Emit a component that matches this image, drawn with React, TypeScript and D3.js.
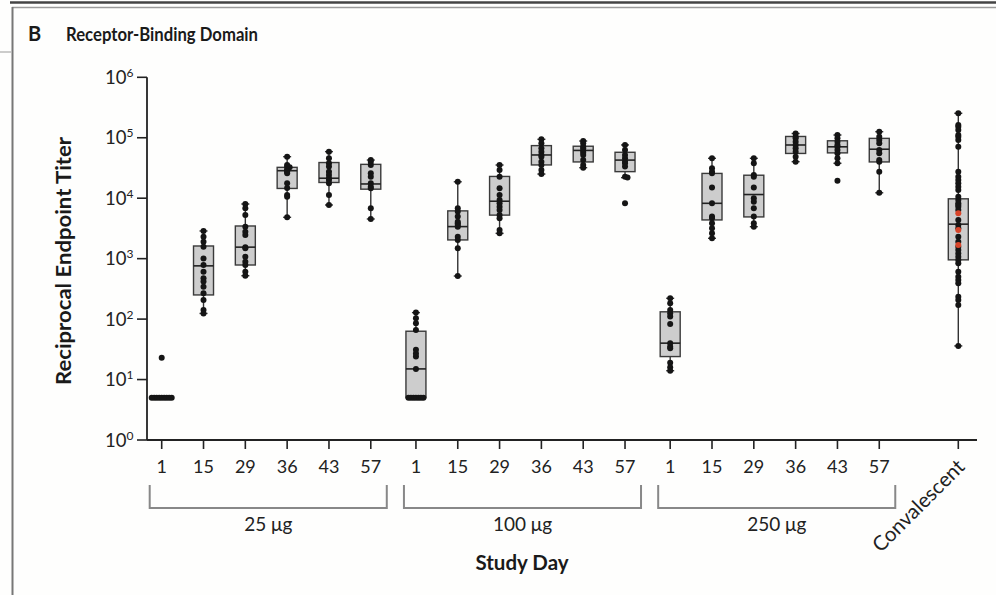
import React from "react";
import * as d3 from "d3";

// ---------- data ----------
const doseLabels = ["25 μg", "100 μg", "250 μg"];
const dayLabels = ["1", "15", "29", "36", "43", "57"];
const convLabel = "Convalescent";
const yExponents = [0, 1, 2, 3, 4, 5, 6];

// per-day box stats: [whiskerLow, q1, median, q3, whiskerHigh]
const box25 = [
  [5, 5, 5, 5, 5],
  [124, 251, 760, 1620, 2870],
  [522, 785, 1550, 3470, 8020],
  [4830, 14500, 28500, 32400, 48600],
  [7720, 18200, 21400, 38900, 58900],
  [4530, 14100, 17200, 36300, 42800],
];
const box100 = [
  [5, 5, 15, 63, 128],
  [516, 2040, 3390, 6170, 18700],
  [2620, 5250, 8910, 22900, 35400],
  [25100, 35500, 51900, 74100, 94200],
  [32000, 39800, 61700, 72400, 88300],
  [21900, 27500, 42700, 57500, 76000],
];
const box250 = [
  [14, 24, 40, 132, 221],
  [2170, 4370, 8230, 25700, 45700],
  [3380, 4900, 11500, 24000, 45700],
  [40200, 55000, 75900, 105000, 117500],
  [37800, 56200, 70800, 89100, 111000],
  [12300, 39800, 64600, 97700, 126000],
];
const boxConv = [36, 955, 3720, 9770, 254000];

// individual titers
const pts25 = [
  [5, 5, 5, 5, 5, 5, 5, 5, 5, 23],
  [2870, 2310, 1910, 1580, 1010, 785, 610, 473, 417, 344, 267, 207, 141, 124],
  [8020, 6800, 5280, 3380, 2790, 2460, 1540, 1480, 1080, 890, 785, 610, 522],
  [48600, 35400, 33500, 32400, 30000, 28500, 27400, 25800, 17600, 14800, 11300, 10600, 4830],
  [58900, 45700, 37800, 33300, 27400, 24200, 21300, 20000, 17600, 11300, 7720],
  [42800, 40200, 35400, 25800, 22700, 17600, 15500, 14600, 6800, 4530],
];
const pts100 = [
  [5, 5, 5, 5, 5, 5, 5, 15, 24, 27, 31, 66, 85, 103, 128],
  [18700, 6800, 6000, 4960, 4090, 3850, 3610, 3380, 2310, 2030, 1480, 516],
  [35400, 29300, 22700, 14600, 11300, 9340, 8230, 7240, 6380, 5280, 4650, 2980, 2620],
  [94200, 80900, 66900, 58900, 51900, 48600, 40200, 35400, 29300, 25100],
  [88300, 80900, 71300, 66900, 61100, 56600, 51900, 42800, 35400, 32000],
  [76000, 62700, 51900, 45700, 40200, 37800, 33300, 22700, 21900, 8230],
];
const pts250 = [
  [221, 183, 141, 125, 110, 83, 40, 35, 33, 19, 16, 14],
  [45700, 31200, 27400, 25800, 15100, 8230, 4960, 4650, 3850, 3180, 2620, 2170],
  [45700, 37800, 24200, 22700, 15100, 9960, 8760, 6800, 4960, 3850, 3380],
  [117500, 104000, 97700, 86100, 75900, 66900, 58900, 48600, 40200],
  [111000, 97700, 86100, 75900, 71300, 62700, 55200, 45700, 37800, 19500],
  [126000, 104000, 91900, 80900, 62700, 55200, 42800, 40200, 27400, 12300],
];
const ptsConv = [
  254000, 163000, 152000, 134000, 111000, 104000, 91900, 71300, 27400, 22700, 20000,
  17600, 15500, 13700, 10600, 9340, 8230, 7720, 7240, 6380, 4370, 3610, 3180, 2310,
  1910, 1580, 1390, 1220, 1080, 950, 838, 610, 504, 444, 391, 235, 207, 171, 36,
];
const ptsConvRed = [5630, 2980, 1680];

const doseBoxes = [box25, box100, box250];
const dosePoints = [pts25, pts100, pts250];

// ---------- layout ----------
const W = 996;
const H = 595;
const GROUP_STRIDE = 6.08;
const CONV_GAP = 1.89;
const FONT = "Lato, 'Open Sans', sans-serif";

const convSlot = 2 * GROUP_STRIDE + 5 + CONV_GAP;
const x = d3.scaleLinear().domain([0, convSlot]).range([161.7, 958.3]);
const y = d3.scaleLog().domain([1, 1e6]).range([440, 77.3]);
const slot = (g: number, i: number) => g * GROUP_STRIDE + i;

const AXIS_X = 147;
const AXIS_Y = 440;
const BOX_W = 20;
const STEP = 2.5;
const R = 3;

type P = { x: number; y: number; red?: boolean };

function swarm(vals: number[], cx: number, red: boolean[] = []): P[] {
  const placed: P[] = [];
  vals.forEach((v, idx) => {
    const py = y(v);
    for (let k = 0; k < 40; k++) {
      const off = k === 0 ? 0 : (k % 2 ? 1 : -1) * Math.ceil(k / 2) * STEP;
      const px = cx + off;
      const hit = placed.some((q) => Math.abs(q.y - py) < 1 && Math.abs(q.x - px) < STEP - 0.1);
      if (!hit) {
        placed.push({ x: px, y: py, red: red[idx] });
        break;
      }
    }
  });
  return placed;
}

function Box({ cx, stats, pts }: { cx: number; stats: number[]; pts: P[] }) {
  const [lo, q1, med, q3, hi] = stats;
  const h = BOX_W / 2;
  return (
    <g>
      <line x1={cx} x2={cx} y1={y(lo)} y2={y(hi)} stroke="#333" strokeWidth={1.4} />
      <line x1={cx - 4} x2={cx + 4} y1={y(lo)} y2={y(lo)} stroke="#333" strokeWidth={1.4} />
      <line x1={cx - 4} x2={cx + 4} y1={y(hi)} y2={y(hi)} stroke="#333" strokeWidth={1.4} />
      <rect
        x={cx - h}
        y={y(q3)}
        width={BOX_W}
        height={Math.max(0, y(q1) - y(q3))}
        fill="#cdcdcd"
        stroke="#3a3a3a"
        strokeWidth={1.4}
      />
      <line x1={cx - h} x2={cx + h} y1={y(med)} y2={y(med)} stroke="#222" strokeWidth={1.6} />
      {pts.map((p, i) => (
        <circle key={i} cx={p.x} cy={p.y} r={R} fill={p.red ? "#d8452a" : "#151515"} />
      ))}
    </g>
  );
}

export default function App() {
  const convX = x(convSlot);
  const convAll = [...ptsConv, ...ptsConvRed];
  const convRed = [...ptsConv.map(() => false), ...ptsConvRed.map(() => true)];
  const convPts = swarm(convAll, convX, convRed);

  return (
    <svg
      width={W}
      height={H}
      viewBox={`0 0 ${W} ${H}`}
      style={{ position: "absolute", left: 0, top: 0, background: "#fefefd" }}
      fontFamily={FONT}
    >
      {/* frame */}
      <line x1={10} y1={2.5} x2={W} y2={2.5} stroke="#444" strokeWidth={2.5} />
      <line x1={12} y1={7.5} x2={W} y2={7.5} stroke="#9a9a9a" strokeWidth={1.5} />
      <line x1={12.5} y1={7} x2={12.5} y2={H} stroke="#777" strokeWidth={2} />
      <line x1={0} y1={52} x2={11} y2={52} stroke="#aaa" strokeWidth={1.2} />

      {/* title */}
      <text x={28} y={41} fontSize={20} fontWeight={700} fill="#1a1a1a">B</text>
      <text x={66} y={41} fontSize={19} fontWeight={700} fill="#1a1a1a" textLength={192} lengthAdjust="spacingAndGlyphs">
        Receptor-Binding Domain
      </text>

      {/* y axis */}
      <line x1={AXIS_X} x2={AXIS_X} y1={y(1e6)} y2={AXIS_Y} stroke="#222" strokeWidth={1.8} />
      {yExponents.map((e) => {
        const ty = y(Math.pow(10, e));
        return (
          <g key={e}>
            <line x1={AXIS_X - 10} x2={AXIS_X} y1={ty} y2={ty} stroke="#222" strokeWidth={1.6} />
            <text x={133.5} y={ty + 6.5} textAnchor="end" fontSize={18.5} fill="#222">
              10
              <tspan fontSize={12} dy={-7}>{e}</tspan>
            </text>
          </g>
        );
      })}
      <text
        transform={`translate(71,261) rotate(-90)`}
        textAnchor="middle"
        fontSize={21}
        fontWeight={700}
        fill="#1a1a1a"
        textLength={248}
        lengthAdjust="spacingAndGlyphs"
      >
        Reciprocal Endpoint Titer
      </text>

      {/* x axis */}
      <line x1={AXIS_X} x2={977} y1={AXIS_Y} y2={AXIS_Y} stroke="#222" strokeWidth={1.8} />
      {doseLabels.map((dl, g) => {
        const x0 = x(slot(g, 0));
        const x1 = x(slot(g, 5));
        return (
          <g key={dl}>
            {dayLabels.map((d, i) => {
              const tx = x(slot(g, i));
              return (
                <g key={d}>
                  <line x1={tx} x2={tx} y1={AXIS_Y} y2={AXIS_Y + 9} stroke="#222" strokeWidth={1.6} />
                  <text x={tx} y={472.5} textAnchor="middle" fontSize={18} fill="#222">{d}</text>
                </g>
              );
            })}
            <path
              d={`M${x0 - 12},485 V508 H${x1 + 16} V485`}
              fill="none"
              stroke="#888"
              strokeWidth={2}
            />
            <text x={(x0 - 12 + x1 + 16) / 2} y={531} textAnchor="middle" fontSize={19} fill="#222">
              {dl}
            </text>
          </g>
        );
      })}
      <line x1={convX} x2={convX} y1={AXIS_Y} y2={AXIS_Y + 9} stroke="#222" strokeWidth={1.6} />
      <text
        transform={`translate(966,468) rotate(-45)`}
        textAnchor="end"
        fontSize={20.5}
        fill="#222"
      >
        {convLabel}
      </text>
      <text x={522} y={570} textAnchor="middle" fontSize={20.5} fontWeight={700} fill="#1a1a1a">
        Study Day
      </text>

      {/* boxes */}
      {doseBoxes.map((boxes, g) =>
        boxes.map((stats, i) => {
          const cx = x(slot(g, i));
          return <Box key={`${g}-${i}`} cx={cx} stats={stats} pts={swarm(dosePoints[g][i], cx)} />;
        })
      )}
      <Box cx={convX} stats={boxConv} pts={convPts} />
    </svg>
  );
}
